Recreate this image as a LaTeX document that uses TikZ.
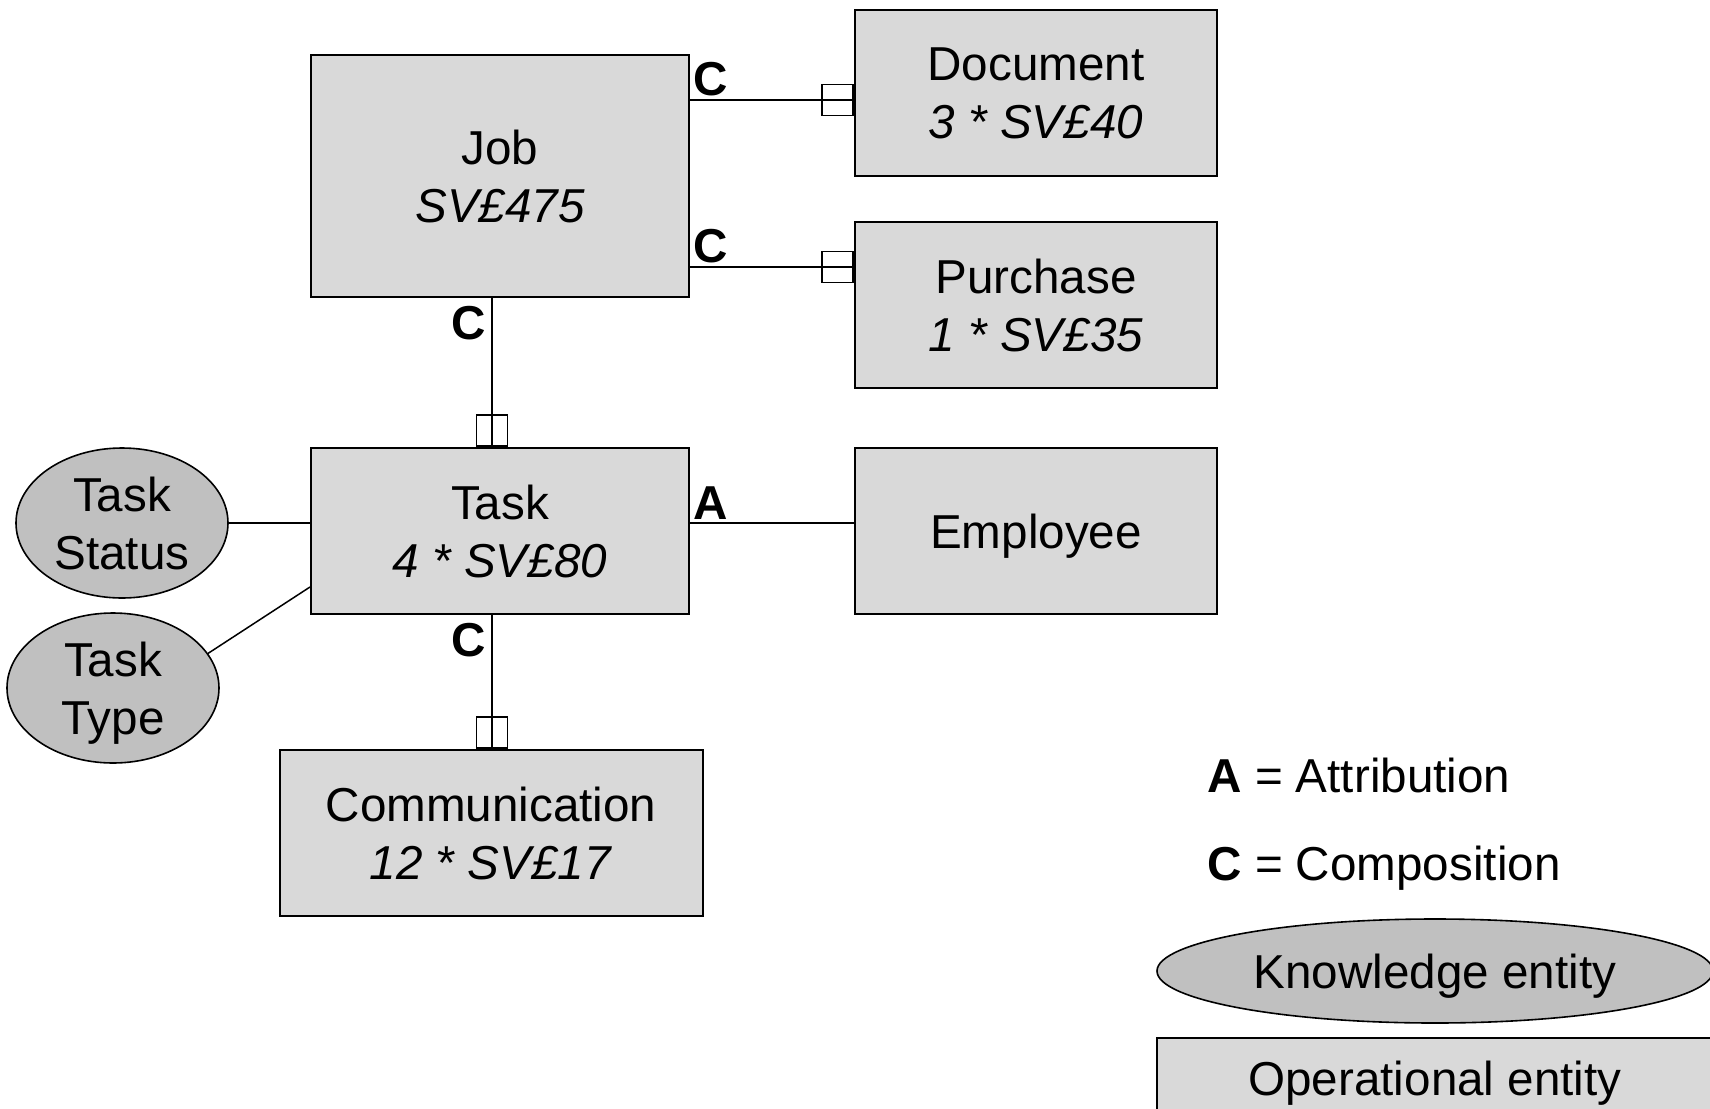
\documentclass[tikz,border=0pt]{standalone}
\usepackage{fontspec}
\setmainfont{Liberation Sans}
\usetikzlibrary{positioning,calc,shapes.geometric}
\definecolor{opgray}{RGB}{217,217,217}
\definecolor{kngray}{RGB}{192,192,192}
\newcommand{\diagfont}{\fontsize{23.8}{29}\selectfont}
\tikzset{
  opent/.style={draw=black,fill=opgray,line width=1pt,align=center,inner sep=0pt},
  knent/.style={ellipse,draw=black,fill=kngray,line width=0.8pt,align=center,inner sep=0pt,
    minimum width=106pt,minimum height=75pt},
  link/.style={line width=0.75pt},
  rel/.style={font=\diagfont\bfseries,inner sep=1.5pt},
  compbox/.style={draw,line width=0.8pt,minimum width=15.5pt,minimum height=15.5pt,inner sep=0pt},
  key/.style={anchor=base west,inner sep=0pt}
}

\begin{document}
\begin{tikzpicture}[x=0.5pt,y=-0.5pt,font=\diagfont]
  \useasboundingbox (0,0) rectangle (1710,1109);
  \clip (0,0) rectangle (1710,1109);
  % operational entities
  \node[opent,minimum width=189pt,minimum height=121pt] (job) at (500,176) {Job\\\textit{SV£475}};
  \node[opent,minimum width=181pt,minimum height=83pt] (doc) at (1036,93) {Document\\\textit{3 * SV£40}};
  \node[opent,minimum width=181pt,minimum height=83pt] (purch) at (1036,305) {Purchase\\\textit{1 * SV£35}};
  \node[opent,minimum width=189pt,minimum height=83pt] (task) at (500,531) {Task\\\textit{4 * SV£80}};
  \node[opent,minimum width=181pt,minimum height=83pt,text depth=0pt] (emp) at (1036,531) {Employee};
  \node[opent,minimum width=211.5pt,minimum height=83pt] (comm) at (491,833) {Communication\\\textit{12 * SV£17}};
  % knowledge entities
  \node[knent] (tstat) at (122,523) {Task\\Status};
  \node[knent,text depth=0pt] (ttype) at (113,688) {Task\\Type};
  % connectors
  \coordinate (docline) at (0,100);
  \coordinate (purline) at (0,267);
  \coordinate (taskline) at (0,523);
  \coordinate (vline) at (492,0);
  \coordinate (ttend) at ($(task.south west)+(0,-28)$);
  \draw[link] (docline -| job.east) -- (docline -| doc.west) node[pos=0,above right,rel]{C};
  \draw[link] (purline -| job.east) -- (purline -| purch.west) node[pos=0,above right,rel]{C};
  \draw[link] (vline |- job.south) -- (vline |- task.north) node[pos=0,below left,rel,inner xsep=2.5pt,inner ysep=4pt]{C};
  \draw[link] (taskline -| task.east) -- (taskline -| emp.west) node[pos=0,above right,rel]{A};
  \draw[link] (vline |- task.south) -- (vline |- comm.north) node[pos=0,below left,rel,inner xsep=2.5pt,inner ysep=4pt]{C};
  \draw[link] (tstat) -- (taskline -| task.west);
  \draw[link] (ttype.20) -- (ttend);
  % composition marks
  \node[compbox,anchor=east] (cdoc) at (docline -| doc.west) {};
  \node[compbox,anchor=east] (cpurch) at (purline -| purch.west) {};
  \node[compbox,anchor=south] (ctask) at (vline |- task.north) {};
  \node[compbox,anchor=south] (ccomm) at (vline |- comm.north) {};
  % legend
  \node[key] (attr) at (1207,792) {\textbf{A} = Attribution};
  \node[key] (compo) at (1207,880) {\textbf{C} = Composition};
  \node[knent,minimum width=278pt,minimum height=52pt,text depth=0pt] (knkey) at (1435,971) {Knowledge entity};
  \node[opent,minimum width=278pt,minimum height=40pt,text depth=0pt] (opkey) at (1435,1078) {Operational entity};
\end{tikzpicture}
\end{document}
